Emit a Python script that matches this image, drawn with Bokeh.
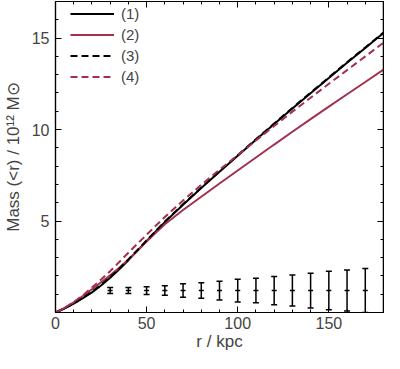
from bokeh.plotting import figure
from bokeh.models import (Range1d, FixedTicker, LinearAxis, Legend, LegendItem,
                          ColumnDataSource, Whisker, TeeHead)
from bokeh.embed import file_html
from bokeh.resources import INLINE

# ---- data ----
r = [0, 5, 10, 15, 20, 25, 30, 35, 40, 45, 50, 55, 60, 70, 80, 90, 100,
     110, 120, 130, 140, 150, 160, 170, 180]
mass1 = [0, 0.22, 0.48, 0.78, 1.10, 1.48, 1.90, 2.36, 2.86, 3.38, 3.91, 4.43,
         4.94, 5.89, 6.80, 7.69, 8.57, 9.44, 10.30, 11.15, 11.99, 12.82,
         13.65, 14.46, 15.28]
mass2 = [0, 0.25, 0.55, 0.90, 1.27, 1.65, 2.03, 2.45, 2.90, 3.38, 3.88, 4.36,
         4.82, 5.60, 6.33, 7.05, 7.76, 8.47, 9.18, 9.88, 10.57, 11.25,
         11.93, 12.60, 13.28]
mass3 = [0, 0.23, 0.49, 0.80, 1.13, 1.51, 1.94, 2.40, 2.90, 3.42, 3.94, 4.46,
         4.97, 5.92, 6.83, 7.72, 8.60, 9.47, 10.33, 11.18, 12.02, 12.85,
         13.68, 14.49, 15.31]
mass4 = [0, 0.25, 0.57, 0.94, 1.36, 1.80, 2.26, 2.76, 3.27, 3.76, 4.25, 4.74,
         5.22, 6.12, 6.98, 7.80, 8.60, 9.40, 10.20, 10.98, 11.74, 12.50,
         13.25, 14.00, 14.75]

err_r = [30, 40, 50, 60, 70, 80, 90, 100, 110, 120, 130, 140, 150, 160, 170]
err_center = [1.2] * 15
err_half = [0.16, 0.16, 0.21, 0.26, 0.37, 0.42, 0.51, 0.62, 0.67, 0.77,
            0.85, 0.95, 1.05, 1.12, 1.20]

labels = ["(1)", "(2)", "(3)", "(4)"]
x_title = "r / kpc"
y_title = "Mass (<r) / 10\u00b9\u00b2 M\u2299"
x_major = [0, 50, 100, 150]
x_minor = list(range(0, 181, 10))
y_major = [5, 10, 15]
y_minor = list(range(0, 18, 1))
X_MAX, Y_MAX = 180, 17

RED = "#A3304F"
FONT = "Liberation Sans"

p = figure(width=384, height=353, output_backend="svg", toolbar_location=None,
           title=None,
           x_range=Range1d(0, X_MAX), y_range=Range1d(0, Y_MAX),
           min_border_left=54, min_border_right=1, min_border_top=1,
           min_border_bottom=41)
p.background_fill_color = "white"
p.border_fill_color = "white"
p.outline_line_color = "black"
p.outline_line_width = 1.2
p.grid.visible = False

def style_axis(ax):
    ax.axis_line_color = "black"
    ax.axis_line_width = 1.2
    ax.major_tick_in = 6
    ax.major_tick_out = 0
    ax.minor_tick_in = 3
    ax.minor_tick_out = 0
    ax.major_tick_line_color = "black"
    ax.minor_tick_line_color = "black"
    ax.major_label_text_font = FONT
    ax.axis_label_text_font = FONT
    ax.axis_label_text_font_style = "normal"
    ax.major_label_text_font_size = "16px"
    ax.axis_label_text_font_size = "17px"

p.xaxis.ticker = FixedTicker(ticks=x_major, minor_ticks=x_minor)
p.yaxis.ticker = FixedTicker(ticks=y_major, minor_ticks=y_minor)
p.xaxis.axis_label = x_title
p.yaxis.axis_label = y_title
style_axis(p.xaxis[0])
style_axis(p.yaxis[0])
p.xaxis.major_label_standoff = 4
p.xaxis.axis_label_standoff = 0
p.yaxis.major_label_standoff = 6
p.yaxis.axis_label_standoff = 6

# mirrored tick marks on the top and right edges (no labels, no extra space)
def tick_axis(minor, length, loc):
    ax = LinearAxis(ticker=FixedTicker(ticks=[], minor_ticks=minor),
                    axis_label=None, fixed_location=loc)
    ax.axis_line_color = "black"
    ax.axis_line_width = 1.2
    ax.major_tick_in = 0
    ax.major_tick_out = 0
    ax.minor_tick_in = length
    ax.minor_tick_out = 0
    ax.minor_tick_line_color = "black"
    ax.major_label_standoff = 0
    return ax

p.add_layout(tick_axis(x_minor, 3, Y_MAX), "above")
p.add_layout(tick_axis(x_major, 6, Y_MAX), "above")
p.add_layout(tick_axis(y_minor, 3, X_MAX), "right")
p.add_layout(tick_axis(y_major, 6, X_MAX), "right")

l1 = p.line(r, mass1, line_color="black", line_width=2)
l2 = p.line(r, mass2, line_color=RED, line_width=2)
l3 = p.line(r, mass3, line_color="black", line_width=2, line_dash="7 4")
l4 = p.line(r, mass4, line_color=RED, line_width=2, line_dash="7 4")

src = ColumnDataSource(dict(
    x=err_r, y=err_center,
    lo=[c - h for c, h in zip(err_center, err_half)],
    hi=[c + h for c, h in zip(err_center, err_half)]))
wh = Whisker(source=src, base="x", lower="lo", upper="hi",
             line_color="black", line_width=1.5,
             upper_head=TeeHead(size=6, line_color="black", line_width=1.5),
             lower_head=TeeHead(size=6, line_color="black", line_width=1.5))
p.add_layout(wh)
p.scatter("x", "y", source=src, marker="dash", size=5, line_color="black",
          line_width=1.5)

legend = Legend(items=[LegendItem(label=labels[0], renderers=[l1]),
                       LegendItem(label=labels[1], renderers=[l2]),
                       LegendItem(label=labels[2], renderers=[l3]),
                       LegendItem(label=labels[3], renderers=[l4])],
                location=(15, 225), margin=0, padding=0, spacing=0,
                border_line_color=None, background_fill_alpha=0,
                glyph_width=44, glyph_height=21, label_height=21,
                label_standoff=7, label_text_font=FONT,
                label_text_font_size="15px")
p.add_layout(legend)

open("out.html", "w").write(file_html(p, INLINE))
